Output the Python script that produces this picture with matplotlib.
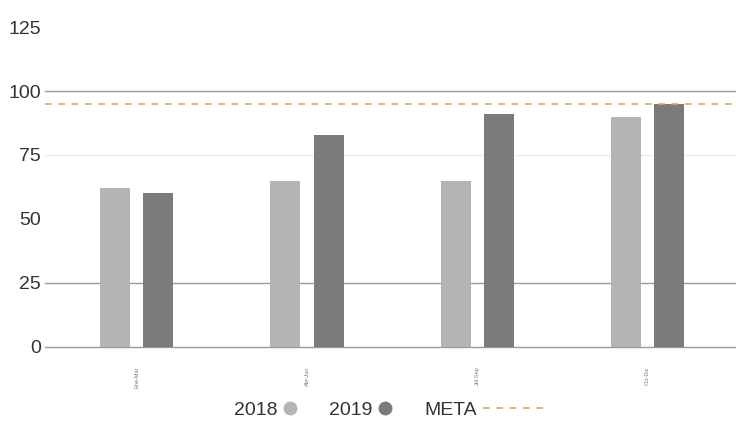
import matplotlib.pyplot as plt
from matplotlib.lines import Line2D
import numpy as np

plt.rcParams['font.family'] = ['Liberation Sans Narrow', 'Liberation Sans', 'DejaVu Sans']

# Data
periods = ['Ene-Mar', 'Abr-Jun', 'Jul-Sep', 'Oct-Dic']
values_2018 = [62, 65, 65, 90]
values_2019 = [60, 83, 91, 95]
meta = 95
yticks = [0, 25, 50, 75, 100, 125]

color_2018 = '#b4b4b4'
color_2019 = '#7b7b7b'
color_meta = '#dba565'

fig = plt.figure(figsize=(7.36, 4.23), dpi=100)
ax = fig.add_axes([0.061, 0.18, 0.939, 0.756])

x = np.arange(len(periods))
width = 0.176
offset = 0.127

# Grid lines, darker ones as in the reference
for y in yticks:
    if y in (0, 25, 100):
        ax.axhline(y, color='#9a9a9a', linewidth=1.0, zorder=1, clip_on=False)
    elif y == 75:
        ax.axhline(y, color='#ececec', linewidth=1.0, zorder=1)

ax.bar(x - offset, values_2018, width=width, color=color_2018, zorder=2)
ax.bar(x + offset, values_2019, width=width, color=color_2019, zorder=2)
ax.axhline(meta, color=color_meta, linestyle=(0, (4, 4)), linewidth=1.2, zorder=3)

ax.set_ylim(0, 125)
ax.set_xlim(-0.54, 3.52)
ax.set_yticks(yticks)
ax.set_yticklabels([str(v) for v in yticks], fontsize=14, color='#333333')
ax.set_xticks(x)
ax.set_xticklabels(periods, rotation=90, fontsize=4, color='#777777')
ax.tick_params(axis='both', length=0, pad=3)
ax.tick_params(axis='x', pad=14)
for s in ax.spines.values():
    s.set_visible(False)

# Legend: years with circle markers, META with a long dashed line
year_handles = [
    Line2D([], [], marker='o', linestyle='none', markersize=9,
           markerfacecolor=color_2018, markeredgecolor=color_2018),
    Line2D([], [], marker='o', linestyle='none', markersize=9,
           markerfacecolor=color_2019, markeredgecolor=color_2019),
]
fig.legend(year_handles, ['2018', '2019'], loc='center left',
           bbox_to_anchor=(0.305, 0.031), ncol=2, frameon=False,
           markerfirst=False, fontsize=14, handlelength=0.8,
           handletextpad=0.25, columnspacing=1.6, borderpad=0,
           labelcolor='#333333')
meta_handle = [Line2D([], [], color=color_meta, linestyle=(0, (4, 4)),
                      linewidth=1.2)]
fig.legend(meta_handle, ['META'], loc='center left',
           bbox_to_anchor=(0.563, 0.031), frameon=False,
           markerfirst=False, fontsize=14, handlelength=3.4,
           handletextpad=0.3, borderpad=0, labelcolor='#333333')

fig.savefig('out.png', dpi=100)
